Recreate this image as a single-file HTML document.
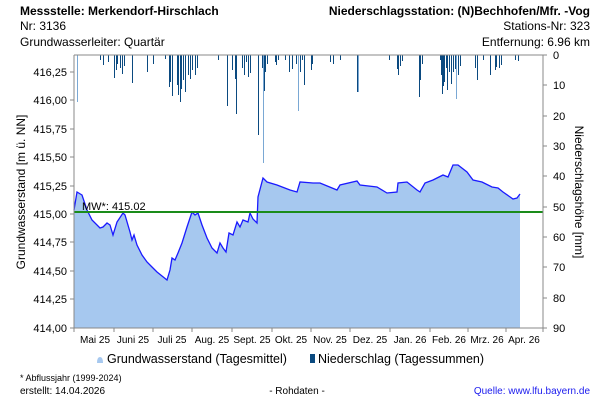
<!DOCTYPE html><html><head><meta charset="utf-8"><style>body{margin:0;background:#fff}svg{display:block;font-family:"Liberation Sans",sans-serif}</style></head><body>
<svg width="600" height="400" viewBox="0 0 600 400" xmlns="http://www.w3.org/2000/svg">
<g font-size="12" fill="#000">
<text x="20" y="15" font-weight="bold">Messstelle: Merkendorf-Hirschlach</text>
<text x="20" y="30">Nr: 3136</text>
<text x="20" y="46">Grundwasserleiter: Quartär</text>
<text x="590" y="15" font-weight="bold" text-anchor="end">Niederschlagsstation: (N)Bechhofen/Mfr. -Vog</text>
<text x="590" y="30" text-anchor="end">Stations-Nr: 323</text>
<text x="590" y="46" text-anchor="end">Entfernung: 6.96 km</text>
</g>
<polygon fill="#a6c8ef" points="74,328 74,210 77,192 82,195 87,210 92,220 100,228 103,227 107,223 110,225 113,235 117,222 123,213 125,215 130,232 132,240 134,235 137,245 142,255 147,262 152,267 157,272 162,276 167,280 170,270 172,258 175,260 178,253 182,243 187,227 192,212 195,215 198,213 202,225 207,238 212,248 217,253 220,243 223,248 226,252 229,233 233,235 237,222 240,227 243,220 248,222 250,213 253,219 257,223 258,197 263,178 267,182 277,185 290,190 297,192 300,182 313,183 320,183 337,190 340,185 357,181 360,185 377,187 387,193 397,192 398,183 407,182 417,190 420,192 425,183 433,180 443,175 448,177 453,165 458,165 467,172 473,180 482,182 492,187 498,188 503,192 513,199 517,198 520,194 520,328"/>
<polyline fill="none" stroke="#1a1aff" stroke-width="1.3" points="74,210 77,192 82,195 87,210 92,220 100,228 103,227 107,223 110,225 113,235 117,222 123,213 125,215 130,232 132,240 134,235 137,245 142,255 147,262 152,267 157,272 162,276 167,280 170,270 172,258 175,260 178,253 182,243 187,227 192,212 195,215 198,213 202,225 207,238 212,248 217,253 220,243 223,248 226,252 229,233 233,235 237,222 240,227 243,220 248,222 250,213 253,219 257,223 258,197 263,178 267,182 277,185 290,190 297,192 300,182 313,183 320,183 337,190 340,185 357,181 360,185 377,187 387,193 397,192 398,183 407,182 417,190 420,192 425,183 433,180 443,175 448,177 453,165 458,165 467,172 473,180 482,182 492,187 498,188 503,192 513,199 517,198 520,194"/>
<g transform="translate(0.5,0)">
<path stroke="#0b4a80" stroke-width="1" fill="none" d="M100,55V60M103,55V65M108,55V62M114,55V78M116,55V70M117,55V64M120,55V68M122,55V74M124,55V66M132,55V83M147,55V72M153,55V64M165,55V59M169,55V87M170,55V82M172,55V96M177,55V85M178,55V95M180,55V102M181,55V89M183,55V80M185,55V92M188,55V75M190,55V79M192,55V70M195,55V75M197,55V68M218,55V60M227,55V106M232,55V70M235,55V79M236,55V114M242,55V68M244,55V75M246,55V62M248,55V77M250,55V73M258,55V135M262,55V68M264,55V91M265,55V72M267,55V64M275,55V62M276,55V65M278,55V60M285,55V60M289,55V72M292,55V69M296,55V64M300,55V72M302,55V60M304,55V85M311,55V70M312,55V64M330,55V62M333,55V64M340,55V60M357,55V92M389,55V60M397,55V69M398,55V75M400,55V66M402,55V61M419,55V97M420,55V80M422,55V64M440,55V60M441,55V75M442,55V94M443,55V86M444,55V82M446,55V68M447,55V90M449,55V72M451,55V84M453,55V72M455,55V69M458,55V75M460,55V66M475,55V68M477,55V80M483,55V60M490,55V75M495,55V70M496,55V67M499,55V68M501,55V65M515,55V60M518,55V61"/>
<path stroke="#7aa8d4" stroke-width="1" fill="none" d="M77,55V102M263,55V163M298,55V111M456,55V99M358,55V92"/>
</g>
<line x1="74" y1="212" x2="543" y2="212" stroke="#1a8c1a" stroke-width="2"/>
<text x="82" y="210" font-size="11">MW*: 415.02</text>
<g stroke="#888" fill="none">
<path d="M74,55V328H543V55H74"/>
<path d="M70,72H74M70,100H74M70,129H74M70,157H74M70,186H74M70,214H74M70,242H74M70,271H74M70,299H74M70,328H74"/>
<path d="M543,55H547M543,85H547M543,116H547M543,146H547M543,176H547M543,207H547M543,237H547M543,267H547M543,298H547M543,328H547"/>
<path d="M74,328V332M114,328V332M153,328V332M192,328V332M232,328V332M272,328V332M311,328V332M350,328V332M390,328V332M430,328V332M468,328V332M506,328V332M543,328V332"/>
</g>
<g font-size="11" text-anchor="end">
<text x="67" y="76">416,25</text><text x="67" y="104">416,00</text><text x="67" y="133">415,75</text><text x="67" y="161">415,50</text><text x="67" y="190">415,25</text><text x="67" y="218">415,00</text><text x="67" y="246">414,75</text><text x="67" y="275">414,50</text><text x="67" y="303">414,25</text><text x="67" y="332">414,00</text>
</g>
<g font-size="11">
<text x="553" y="59">0</text><text x="553" y="89">10</text><text x="553" y="120">20</text><text x="553" y="150">30</text><text x="553" y="180">40</text><text x="553" y="211">50</text><text x="553" y="241">60</text><text x="553" y="271">70</text><text x="553" y="302">80</text><text x="553" y="332">90</text>
</g>
<g font-size="10" text-anchor="middle">
<text x="95" y="343">Mai 25</text><text x="133" y="343">Juni 25</text><text x="172" y="343">Juli 25</text><text x="212" y="343">Aug. 25</text><text x="252" y="343">Sept. 25</text><text x="291" y="343">Okt. 25</text><text x="330" y="343">Nov. 25</text><text x="370" y="343">Dez. 25</text><text x="410" y="343">Jan. 26</text><text x="449" y="343">Feb. 26</text><text x="487" y="343">Mrz. 26</text><text x="524" y="343">Apr. 26</text>
</g>
<text transform="translate(25,192) rotate(-90)" font-size="12" text-anchor="middle">Grundwasserstand [m ü. NN]</text>
<text transform="translate(575,192) rotate(90)" font-size="12" text-anchor="middle">Niederschlagshöhe [mm]</text>
<path d="M97,363 q0,-6 3,-6 q3,0 3,6z" fill="#a6c8ef"/>
<text x="107" y="363" font-size="12.5">Grundwasserstand (Tagesmittel)</text>
<rect x="310" y="354" width="5" height="9" fill="#0b4a80"/>
<text x="318" y="363" font-size="12.5">Niederschlag (Tagessummen)</text>
<text x="20" y="381" font-size="9">* Abflussjahr (1999-2024)</text>
<text x="20" y="394" font-size="10">erstellt:  14.04.2026</text>
<text x="297" y="394" font-size="10" text-anchor="middle">- Rohdaten -</text>
<text x="590" y="394" font-size="10" text-anchor="end" fill="#1a1aee">Quelle: www.lfu.bayern.de</text>
</svg>
</body></html>
